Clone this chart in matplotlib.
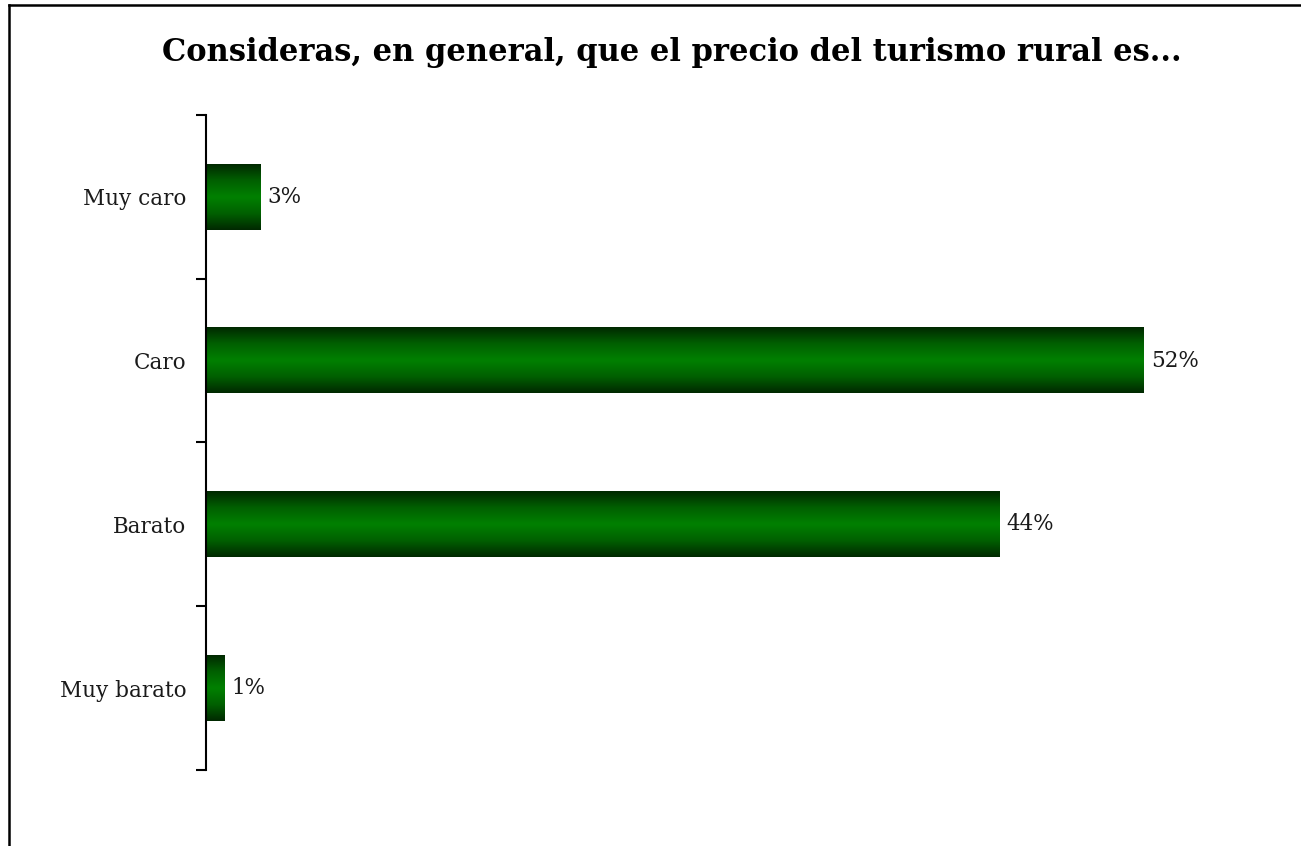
import numpy as np
import matplotlib.pyplot as plt
from matplotlib.colors import LinearSegmentedColormap
from matplotlib.lines import Line2D

categories = ['Muy caro', 'Caro', 'Barato', 'Muy barato']
values = [3, 52, 44, 1]
title = 'Consideras, en general, que el precio del turismo rural es...'

W, H = 1301, 846
fig = plt.figure(figsize=(W / 100, H / 100), dpi=100)
# axes box in pixels: left 206, right 1252, top 115, bottom 770
ax = fig.add_axes([206 / W, 1 - 770 / H, (1252 - 206) / W, (770 - 115) / H])

green = LinearSegmentedColormap.from_list(
    'bar', ['#002800', '#006000', '#008000', '#006000', '#002800'])
grad = np.linspace(0, 1, 256).reshape(-1, 1)

y = np.arange(len(categories))
bar_h = 0.40
for yi, v in zip(y, values):
    ax.imshow(grad, cmap=green, aspect='auto', interpolation='bilinear',
              extent=[0, v, yi - bar_h / 2, yi + bar_h / 2], zorder=2)
    ax.text(v + 0.4, yi, f'{v}%', va='center', ha='left',
            fontsize=15.5, family='DejaVu Serif', color='#1a1a1a')

ax.set_xlim(0, 58)
ax.set_ylim(len(categories) - 0.5, -0.5)

for s in ['top', 'right', 'bottom']:
    ax.spines[s].set_visible(False)
ax.spines['left'].set_linewidth(1.5)
ax.set_xticks([])
ax.set_yticks(y)
ax.set_yticklabels(categories, family='DejaVu Serif', fontsize=15.5,
                   color='#1a1a1a')
ax.tick_params(axis='y', which='major', length=0, pad=14)
ax.set_yticks(np.arange(-0.5, len(categories)), minor=True)
ax.tick_params(axis='y', which='minor', length=7, width=1.5, direction='out')

fig.text(0.5 * (162 + 1182) / W, 1 - 52 / H, title, ha='center', va='center',
         fontsize=22, fontweight='bold', family='DejaVu Serif')

# outer frame (left and top edges visible)
fig.add_artist(Line2D([8.5 / W, 8.5 / W], [0, 1 - 5 / H], color='black', lw=1.8))
fig.add_artist(Line2D([8.5 / W, 1], [1 - 5 / H, 1 - 5 / H], color='black', lw=1.8))

fig.savefig('out.png', dpi=100)
